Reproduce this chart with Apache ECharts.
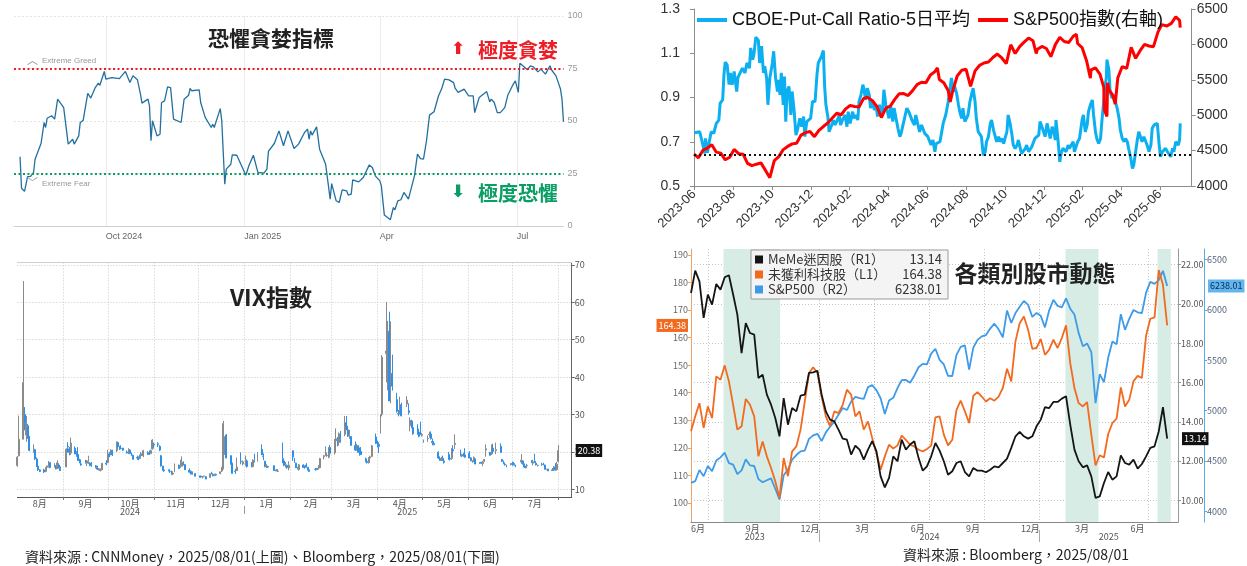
<!DOCTYPE html>
<html><head><meta charset="utf-8">
<script src="https://cdn.jsdelivr.net/npm/echarts@6/dist/echarts.min.js"></script>
<style>html,body{margin:0;padding:0;background:#fff}#c{width:1247px;height:566px}</style>
</head><body><div id="c"></div>
<script>
// ---------- Fear & Greed (days since 2024-08-01) ----------
const fgDay = [4,5,7,9,11,13,14,18,20,21, 22,25,27,29,33,34,36,39,40,43, 44,46,47,49,51,54,56,57,60,61,
 65,70,74,77,79,82,84,85,89,90, 91,92,95,97,98,100,102,104,106,111, 113,116,117,118,123,124,127,131,132,133,
 137,138,140,141,144,145,148,154,156,159, 162,166,168,169,173,176,179,182,186,189, 190,193,195,196,197,198,201,203,207,210,
 211,214,216,218,221,222,224,225,229,232, 236,238,240,243,244,246,250,252,253,255, 257,259,262,263,266,268,270,272,274,276,
 279,282,284,286,289,292,293,295,299,302, 305,306,309,314,316,317,319,321,323,326, 328,331,333,335,336,338,341,343,345,348,
 350,353,356,357,360,363,364,365];
const fgVal = [33,18,16.5,23.5,23.6,25.5,31.8,39.4,49.3,46.9, 51.3,52.5,50.9,60.4,56.4,55.9,39,41.3,39,42.9, 49.3,50.4,54.8,63.2,60.9,65.9,68,67,73.6,69.9,
 70.7,70.2,73.6,68.3,71.5,69.6,62.8,58.5,60.4,57.2, 40.6,50.1,42.9,43.7,58.8,59.6,66.3,65.9,50.9,49.3, 60.4,62.3,65.5,64.4,64.8,58.8,51.7,46.9,48.5,46.9,
 55.9,50.1,19.9,27.1,29.4,33.9,33.7,24.2,28.7,33.7, 25.5,25.2,27.1,35.5,39.4,45.3,38.2,45.3,36.9,39, 38.2,44.5,46.1,41.3,45.3,43.3,47.2,36.6,29.4,12.8,
 20.2,12,11.2,17.2,16.7,14.7,15.2,22,21,23.1, 29.1,27.9,23.9,21.5,19.1,5.2,3,8.8,7.7,12, 12.5,16,12.8,13.1,23.9,34.2,32.1,31.8,40.6,52.8,
 54.4,62,65.2,69.9,69.6,68.3,65.6,63.6,65.2,62, 62,54,61.2,64,59.1,60.4,58.8,54,54,56.4, 62.3,66.7,69.1,63.6,77.5,76.3,74.4,76.3,75.8,73.4,
 74.7,72.3,76.3,74.4,71.5,65.2,60.4,49.6];
const fgTicks = ['2024-10-01','2025-01-01','2025-04-01','2025-07-01'];
const fgTickText = ['Oct 2024','Jan 2025','Apr','Jul'];

// ---------- VIX daily OHLC ----------
const vixDates = [
 '2024-08-01','2024-08-02','2024-08-05','2024-08-06','2024-08-07','2024-08-08','2024-08-09','2024-08-12','2024-08-13','2024-08-14','2024-08-15','2024-08-16','2024-08-19','2024-08-20','2024-08-21','2024-08-22','2024-08-23','2024-08-26','2024-08-27','2024-08-28','2024-08-29','2024-08-30',
 '2024-09-03','2024-09-04','2024-09-05','2024-09-06','2024-09-09','2024-09-10','2024-09-11','2024-09-12','2024-09-13','2024-09-16','2024-09-17','2024-09-18','2024-09-19','2024-09-20','2024-09-23','2024-09-24','2024-09-25','2024-09-26','2024-09-27','2024-09-30',
 '2024-10-01','2024-10-02','2024-10-03','2024-10-04','2024-10-07','2024-10-08','2024-10-09','2024-10-10','2024-10-11','2024-10-14','2024-10-15','2024-10-16','2024-10-17','2024-10-18','2024-10-21','2024-10-22','2024-10-23','2024-10-24','2024-10-25','2024-10-28','2024-10-29','2024-10-30','2024-10-31',
 '2024-11-01','2024-11-04','2024-11-05','2024-11-06','2024-11-07','2024-11-08','2024-11-11','2024-11-12','2024-11-13','2024-11-14','2024-11-15','2024-11-18','2024-11-19','2024-11-20','2024-11-21','2024-11-22','2024-11-25','2024-11-26','2024-11-27','2024-11-29',
 '2024-12-02','2024-12-03','2024-12-04','2024-12-05','2024-12-06','2024-12-09','2024-12-10','2024-12-11','2024-12-12','2024-12-13','2024-12-16','2024-12-17','2024-12-18','2024-12-19','2024-12-20','2024-12-23','2024-12-24','2024-12-26','2024-12-27','2024-12-30','2024-12-31',
 '2025-01-02','2025-01-03','2025-01-06','2025-01-07','2025-01-08','2025-01-10','2025-01-13','2025-01-14','2025-01-15','2025-01-16','2025-01-17','2025-01-21','2025-01-22','2025-01-23','2025-01-24','2025-01-27','2025-01-28','2025-01-29','2025-01-30','2025-01-31',
 '2025-02-03','2025-02-04','2025-02-05','2025-02-06','2025-02-07','2025-02-10','2025-02-11','2025-02-12','2025-02-13','2025-02-14','2025-02-18','2025-02-19','2025-02-20','2025-02-21','2025-02-24','2025-02-25','2025-02-26','2025-02-27','2025-02-28',
 '2025-03-03','2025-03-04','2025-03-05','2025-03-06','2025-03-07','2025-03-10','2025-03-11','2025-03-12','2025-03-13','2025-03-14','2025-03-17','2025-03-18','2025-03-19','2025-03-20','2025-03-21','2025-03-24','2025-03-25','2025-03-26','2025-03-27','2025-03-28','2025-03-31',
 '2025-04-01','2025-04-02','2025-04-03','2025-04-04','2025-04-07','2025-04-08','2025-04-09','2025-04-10','2025-04-11','2025-04-14','2025-04-15','2025-04-16','2025-04-17','2025-04-21','2025-04-22','2025-04-23','2025-04-24','2025-04-25','2025-04-28','2025-04-29','2025-04-30',
 '2025-05-01','2025-05-02','2025-05-05','2025-05-06','2025-05-07','2025-05-08','2025-05-09','2025-05-12','2025-05-13','2025-05-14','2025-05-15','2025-05-16','2025-05-19','2025-05-20','2025-05-21','2025-05-22','2025-05-23','2025-05-27','2025-05-28','2025-05-29','2025-05-30',
 '2025-06-02','2025-06-03','2025-06-04','2025-06-05','2025-06-06','2025-06-09','2025-06-10','2025-06-11','2025-06-12','2025-06-13','2025-06-16','2025-06-17','2025-06-18','2025-06-20','2025-06-23','2025-06-24','2025-06-25','2025-06-26','2025-06-27','2025-06-30',
 '2025-07-01','2025-07-02','2025-07-03','2025-07-07','2025-07-08','2025-07-09','2025-07-10','2025-07-11','2025-07-14','2025-07-15','2025-07-16','2025-07-17','2025-07-18','2025-07-21','2025-07-22','2025-07-23','2025-07-24','2025-07-25','2025-07-28','2025-07-29','2025-07-30','2025-07-31',
 '2025-08-01'];
const vixOpen = [
 16.4,19.0,23.4,30.0,24.5,27.0,24.0,20.4,20.6,18.1,16.2,15.2,15.2,14.8,15.9,16.2,17.2,16.0,16.3,15.6,16.5,15.5,
 16.0,21.5,20.8,19.7,21.0,19.6,19.3,17.9,16.8,17.2,17.0,17.5,17.0,16.4,16.3,15.8,15.4,15.0,15.2,17.0,
 17.2,19.5,19.5,20.1,20.4,22.5,21.4,21.0,21.0,20.0,19.7,20.5,19.4,19.1,18.5,18.4,18.4,19.3,19.0,19.8,19.8,19.6,20.8,
 22.0,22.2,21.5,19.0,16.2,15.2,15.0,14.8,14.6,14.1,14.7,16.5,15.9,16.2,17.0,16.6,15.1,14.8,14.1,14.2,
 13.6,13.5,13.4,13.5,13.4,13.2,14.2,14.0,13.7,14.0,14.2,14.9,15.6,22.8,24.5,19.0,17.0,14.9,15.0,17.5,16.8,
 17.2,17.6,16.2,16.1,17.7,18.2,20.7,18.8,17.5,16.0,16.1,16.3,15.1,15.3,14.8,18.2,17.6,16.4,16.4,15.7,
 20.3,18.0,17.0,15.8,15.3,16.5,16.1,16.5,15.9,15.1,15.4,15.6,15.5,15.8,18.7,19.1,19.0,18.6,21.2,
 19.8,23.0,23.3,22.5,24.5,24.7,27.8,25.9,24.4,24.1,21.7,20.8,21.5,20.3,20.1,18.2,17.5,17.1,18.4,18.8,24.0,
 22.6,22.0,25.0,30.1,46.3,38.0,52.0,38.5,41.0,34.0,30.3,31.4,32.5,32.8,31.0,27.0,28.3,26.5,25.2,25.3,26.0,
 24.4,23.0,23.5,24.6,24.8,22.8,22.3,19.9,18.3,17.8,18.3,17.6,19.3,18.3,18.3,20.6,22.0,20.5,18.9,19.5,19.2,
 19.6,18.4,17.6,17.6,18.1,17.1,17.2,16.9,17.5,20.5,19.9,19.5,21.0,20.3,21.5,18.0,17.5,16.7,16.5,16.6,
 16.9,16.9,16.4,17.3,17.6,16.7,15.9,16.3,17.3,17.0,17.5,17.0,16.4,16.7,16.7,16.5,15.3,15.4,15.2,15.1,15.9,15.3,
 17.4];
const vixHigh = [
 18.9,29.7,65.7,32.0,29.6,27.5,24.3,22.0,20.8,18.5,16.5,15.4,15.5,15.9,16.3,17.6,17.2,17.0,16.5,17.8,17.0,16.1,
 21.0,22.6,21.3,23.8,21.5,20.2,21.3,18.2,17.1,17.9,17.8,19.0,17.2,17.3,16.5,16.3,15.7,15.6,17.0,17.8,
 20.6,20.0,20.7,20.6,22.8,22.7,21.6,21.8,21.1,20.4,21.0,20.6,19.8,19.3,19.0,18.8,20.0,19.6,20.6,20.2,20.4,20.6,23.4,
 22.5,22.6,21.8,19.2,16.3,15.4,15.3,15.4,15.0,14.8,16.9,16.6,17.9,18.8,17.5,16.8,15.6,15.1,14.8,14.3,
 13.6,13.6,13.5,13.6,13.4,14.2,14.7,14.2,14.2,14.2,14.7,16.0,28.3,24.1,24.8,19.1,17.1,15.5,18.5,19.9,17.7,
 19.0,17.8,17.3,18.0,19.5,20.0,22.0,19.6,17.6,16.7,16.3,16.4,15.2,15.4,15.3,22.5,18.2,17.3,16.5,17.5,
 20.4,18.4,17.1,16.0,16.8,16.7,16.4,17.0,16.0,15.3,15.7,15.7,16.5,18.4,19.2,21.5,19.8,21.3,21.9,
 23.5,26.3,24.0,25.2,25.6,29.6,29.6,27.0,25.9,24.2,22.8,22.2,21.8,21.2,21.3,18.5,17.6,18.6,19.0,21.9,24.9,
 23.0,22.6,30.0,45.9,60.1,55.0,57.5,54.9,46.0,35.8,31.2,34.8,33.2,34.9,33.0,29.2,28.6,27.2,27.4,26.2,28.1,
 25.1,23.3,24.4,25.4,25.5,23.6,22.9,20.2,18.8,18.7,19.0,17.9,20.0,18.5,21.0,21.8,24.7,20.6,19.5,19.8,21.0,
 20.2,18.6,17.8,18.8,18.2,17.3,17.4,17.6,18.1,22.0,20.0,22.0,22.2,22.5,22.3,18.1,17.7,17.2,16.6,17.0,
 17.4,17.3,16.6,19.4,17.8,16.9,16.3,16.8,17.8,17.9,19.5,17.2,16.6,17.1,17.1,16.6,15.5,15.5,15.7,16.2,17.0,17.3,
 21.9];
const vixLow = [
 16.0,18.8,23.4,25.8,22.7,23.5,20.2,19.8,17.9,16.0,14.9,14.6,14.4,14.6,15.5,15.8,15.6,15.8,15.4,15.4,15.6,15.0,
 15.9,19.8,19.1,19.2,19.4,18.7,17.6,17.0,16.3,16.9,16.2,16.8,16.2,16.0,15.6,15.2,15.0,14.8,15.1,16.4,
 17.0,18.6,19.1,18.9,20.0,21.0,20.5,20.7,20.3,19.6,19.4,19.5,18.9,18.0,17.9,17.8,18.2,18.9,18.6,19.2,19.2,19.4,20.6,
 20.9,21.3,20.2,16.1,15.0,14.7,14.8,14.4,13.9,13.8,14.6,15.4,15.7,16.1,16.4,15.2,14.4,14.0,13.9,13.5,
 13.1,13.1,12.9,13.2,12.7,13.1,14.0,13.5,13.5,13.6,14.0,14.6,15.3,19.2,18.3,16.6,14.2,14.1,14.9,16.7,16.4,
 16.2,15.8,15.9,15.9,17.2,17.4,19.2,17.8,15.9,15.7,15.7,14.9,14.8,14.8,14.6,17.0,16.2,15.8,15.5,15.1,
 17.6,17.1,15.7,15.3,15.0,15.8,15.5,15.9,15.1,14.7,15.0,15.1,15.3,15.6,18.0,18.9,18.7,18.3,19.6,
 19.3,22.0,21.5,21.7,22.5,24.2,25.8,24.0,23.5,21.6,20.3,20.3,19.8,19.0,19.2,17.2,16.9,16.9,18.0,18.6,22.1,
 21.2,19.7,24.9,29.5,38.6,36.5,33.6,33.0,36.4,30.5,29.5,30.0,29.5,32.0,30.0,25.5,26.3,24.6,24.6,23.9,24.5,
 24.1,22.5,22.7,23.8,23.3,21.8,21.8,18.1,17.7,17.6,17.6,16.9,17.9,17.7,17.9,19.8,20.8,18.8,18.6,18.7,18.5,
 18.3,17.5,17.1,17.3,16.7,16.8,16.8,16.2,17.3,18.7,19.0,19.2,19.6,19.4,19.8,17.3,16.7,16.3,15.9,16.4,
 16.3,16.4,15.9,16.8,16.6,15.7,15.6,15.9,17.0,16.4,17.1,16.4,16.1,16.3,16.4,15.3,15.1,14.9,14.9,14.9,15.0,15.0,
 17.2];
const vixClose = [
 18.59,23.39,38.57,27.71,27.85,23.79,20.37,20.71,18.12,16.19,15.23,14.80,14.65,15.88,16.27,17.55,15.86,16.15,15.43,17.11,15.65,15.00,
 20.72,21.32,19.90,22.38,19.45,19.08,17.69,17.07,16.56,17.14,17.61,18.23,16.33,16.15,15.89,15.39,15.41,15.37,16.96,16.73,
 19.26,18.90,20.49,19.21,22.64,21.42,20.86,20.93,20.46,19.70,20.64,19.58,19.11,18.03,18.37,18.20,19.24,19.08,20.33,19.80,19.34,20.35,23.16,
 21.88,21.98,20.49,16.27,15.20,14.94,14.97,14.71,14.02,14.31,16.14,15.58,16.35,17.16,16.87,15.24,14.60,14.10,14.10,13.51,
 13.34,13.30,13.45,13.54,12.77,14.19,14.18,13.58,13.92,13.81,14.69,15.87,27.62,24.09,18.36,16.78,14.27,14.73,15.95,17.40,17.35,
 17.93,16.13,16.04,17.82,17.70,19.54,19.19,18.71,16.12,16.60,15.97,15.06,15.10,15.02,14.85,17.90,16.41,16.56,15.84,16.43,
 18.62,17.21,15.77,15.50,16.54,15.81,16.02,15.89,15.10,14.77,15.35,15.27,15.66,18.21,18.98,19.43,19.10,21.13,19.63,
 22.78,23.51,21.93,24.87,23.37,27.86,26.92,24.23,24.66,21.77,20.51,21.70,19.90,19.80,19.28,17.48,17.15,18.33,18.69,21.65,22.28,
 21.77,21.51,30.02,45.31,46.98,52.33,33.62,40.72,37.56,30.89,30.12,32.64,29.65,33.82,30.57,28.45,26.47,24.84,25.15,24.17,24.70,
 24.60,22.68,23.64,24.76,23.55,22.48,21.90,18.39,17.72,18.22,17.83,17.24,18.14,18.09,20.87,20.28,22.29,18.96,19.31,19.18,18.57,
 18.36,17.69,17.61,18.48,16.77,17.16,16.95,17.26,18.02,20.82,19.11,21.60,20.14,20.62,19.83,17.48,16.76,16.59,16.32,16.73,
 16.83,16.64,16.38,17.79,16.81,15.94,15.78,16.40,17.20,17.38,17.16,16.52,16.41,16.65,16.50,15.37,15.39,14.93,15.03,15.98,15.48,16.72,
 20.38];
const vixMonthStarts = ['2024-09-01','2024-10-01','2024-11-01','2024-12-01','2025-01-01','2025-02-01','2025-03-01','2025-04-01','2025-05-01','2025-06-01','2025-07-01','2025-08-01'];
const vixMonthLabels = ['2024-08-16','2024-09-16','2024-10-16','2024-11-16','2024-12-16','2025-01-16','2025-02-15','2025-03-16','2025-04-16','2025-05-16','2025-06-16','2025-07-16'];

// ---------- Put/Call ratio (days since 2023-06-30) ----------
const pcDay = [1,9,12,14,17,18,21,24,27,31, 35,39,41,45,47,49,52,55,57,60, 63,67,69,72,76,79,80,83,87,89, 92,94,97,101,103,106,109,111,114,116,
 119,123,125,128,131,132,135,137,140,142, 144,146,149,152,154,157,160,163,166,169, 172,174,177,179,183,186,190,193,195,198, 200,203,205,207,210,212,216,219,221,224,
 228,230,233,237,240,242,245,249,251,254, 257,259,262,265,267,269,272,275,277,280, 283,286,288,291,294,296,298,301,304,306, 309,312,314,317,320,323,325,328,331,334,
 337,339,343,346,348,351,354,357,359,362, 365,367,370,372,375,378,380,383,386,391, 395,399,404,407,409,412,415,417,420,422, 425,428,430,433,436,438,441,443,446,449,
 451,454,457,459,462,465,467,470,472,475, 478,480,483,486,488,491,493,496,499,501, 504,507,509,512,514,517,520,522,525,528, 530,533,535,538,541,543,546,549,551,554,
 556,559,562,564,567,568,571,574,576,579, 581,584,587,589,592,595,597,599,602,605, 609,611,614,617,619,622,625,627,630,632, 635,638,640,643,645,647,648,651,653,656,
 659,661,664,667,669,672,675,677,680,682, 685,688,690,693,696,698,701,703,706,709, 711,714,717,719,722,724,727,730,732,735, 738,740,743,745,748,751,753,756,759,760,
 762,763];
const pcVal = [.741,.745,.738,.685,.647,.715,.65,.70,.745,.738, .783,.798,.874,.889,1.003,1.06,1.048,.958,1.011,.958, 1.018,.927,.991,.995,1.033,1.041,1.011,1.056,1.033,1.124, 1.071,1.094,1.173,1.158,1.056,1.132,1.011,1.041,.988,.867,
 .988,1.056,1.109,.988,.927,.98,.912,1.011,.867,.995, .791,.927,.95,.821,.927,.844,.73,.761,.806,.768, .814,.723,.791,.783,.806,.882,.882,1.003,1.056,1.048, 1.086,1.112,.95,.867,.814,.745,.776,.798,.776,.791,
 .821,.776,.798,.821,.768,.836,.783,.836,.806,.821, .798,.882,.912,.958,.935,.889,.942,.912,.852,.882, .844,.859,.814,.867,.821,.844,.935,.867,.867,.806, .859,.791,.852,.806,.761,.723,.738,.776,.814,.852,
 .836,.844,.791,.776,.821,.821,.745,.776,.783,.738, .73,.723,.723,.685,.708,.655,.692,.685,.70,.783, .821,.882,.988,.927,.95,.92,.867,.836,.806,.852, .791,.783,.821,.882,.92,.942,.882,.806,.745,.738,
 .723,.639,.655,.70,.723,.783,.798,.753,.745,.70, .723,.70,.715,.692,.715,.745,.821,.783,.73,.685, .67,.685,.708,.67,.647,.655,.67,.685,.655,.647, .677,.70,.715,.708,.73,.791,.768,.761,.723,.783,
 .776,.715,.768,.753,.708,.798,.715,.609,.647,.67, .662,.655,.685,.67,.662,.70,.655,.655,.70,.715, .798,.821,.745,.776,.836,.867,.889,.821,.745,.715, .692,.715,.791,.882,.95,.988,1.071,1.026,.927,.897,
 .912,.882,.852,.806,.753,.715,.70,.715,.70,.67, .632,.579,.594,.655,.715,.745,.753,.70,.723,.70, .685,.655,.685,.761,.776,.783,.783,.685,.632,.655, .662,.67,.655,.647,.632,.67,.655,.70,.708,.685,
 .708,.783];
// ---------- S&P 500 (days since 2023-06-30) ----------
const spDay = [0,3,7,14,21,28,31,35,42,49, 56,63,70,77,84,91,98,105,112,119, 126,133,140,147,154,161,168,175,182,189, 196,203,210,217,224,231,238,245,252,259,
 266,272,280,287,294,301,308,315,322,329, 336,343,350,357,364,371,378,382,385,392, 399,402,406,413,420,427,434,441,448,455, 462,469,476,483,490,497,504,511,518,525,
 532,537,539,546,553,560,567,574,581,588, 595,600,602,609,616,622,623,630,637,643, 644,648,649,651,657,661,665,672,679,686, 693,700,707,714,721,728,734,742,749,756, 759,762,763];
const spVal = [4450,4455,4399,4505,4536,4582,4589,4478,4464,4370, 4406,4516,4457,4450,4320,4288,4308,4327,4224,4117, 4358,4415,4514,4559,4595,4604,4719,4754,4770,4697, 4784,4840,4891,4959,5027,5006,5089,5137,5124,5117,
 5234,5254,5204,5123,4967,5100,5128,5223,5303,5305, 5278,5347,5431,5465,5460,5567,5615,5667,5505,5459, 5346,5186,5344,5554,5634,5648,5408,5626,5703,5738, 5751,5815,5864,5808,5729,5995,5871,5969,6032,6090,
 6051,5872,5931,5971,5942,5827,5997,6101,6041,6026, 6115,6144,6013,5955,5770,5522,5639,5668,5581,5397, 5074,4983,5457,5363,5283,5158,5525,5687,5660,5958, 5803,5912,6000,5977,5968,6173,6279,6260,6297,6389, 6389,6339,6238];
const pcTicks = ['2023-06-30','2023-08-31','2023-10-31','2023-12-31','2024-02-29','2024-04-30','2024-06-30','2024-08-31','2024-10-31','2024-12-31','2025-02-28','2025-04-30','2025-06-30'];

// ---------- Weekly sector chart (weeks from 2023-06-02) ----------
const memeVal = [20.56,21.70,21.15,19.29,20.48,19.97,21.02,20.73,21.36,21.46, 20.48,19.46,17.50,19.03,18.52,18.44,16.23,16.40,15.38,14.87,
 14.19,13.26,15.21,13.85,14.70,14.53,15.33,15.38,16.49,16.52, 16.60,15.38,14.53,14.11,14.02,13.60,13.14,13.09,12.33,12.78,
 12.58,12.07,12.58,13.01,12.50,11.22,10.66,11.14,12.24,11.99, 13.09,12.58,12.84,13.01,12.16,11.51,11.73,12.24,12.92,12.53,
 11.99,11.30,11.48,11.90,11.99,11.44,11.22,11.65,11.51,11.51, 11.43,11.56,11.73,11.68,11.90,12.12,12.67,13.26,13.48,13.26,
 13.14,13.26,13.77,14.11,14.74,14.70,15.01,15.01,15.18,15.30, 13.85,12.58,11.99,11.68,11.78,11.22,10.12,10.20,10.88,11.44,
 11.05,11.22,12.29,11.90,11.82,12.07,11.61,11.85,12.24,12.67, 12.75,13.51,14.74,13.14];
const techVal = [126.0,131.4,136.2,127.2,135.0,130.8,145.9,144.7,149.9,144.1, 135.6,126.6,127.8,137.7,135.6,131.4,116.9,122.3,116.9,112.7,
 107.9,101.8,116.3,109.7,118.7,120.5,126.6,136.8,147.1,149.2, 147.1,138.6,131.4,127.8,133.2,132.6,135.6,141.1,139.3,131.4,
 133.2,126.6,129.6,123.6,118.1,112.1,116.9,121.1,119.7,120.9, 124.4,122.9,121.1,120.5,119.3,118.7,119.6,120.8,131.0,131.4,
 124.8,120.9,122.9,133.8,137.1,133.2,129.0,138.9,140.2,138.6, 136.8,138.0,137.1,138.6,141.7,148.7,144.1,158.6,165.2,167.6,
 162.8,155.9,156.2,159.5,153.7,155.6,159.2,156.2,159.8,164.4, 150.7,141.7,136.2,135.0,136.6,124.8,113.6,117.3,116.5,125.0,
 129.0,130.6,141.9,135.0,137.4,144.1,146.1,145.3,160.7,166.8, 167.3,184.5,179.1,164.38];
const spxWeekly = [4282,4299,4410,4348,4450,4399,4505,4536,4582,4478, 4464,4370,4406,4516,4457,4450,4320,4288,4308,4327,
 4224,4117,4358,4415,4514,4559,4595,4604,4719,4754, 4770,4697,4784,4840,4891,4959,5027,5006,5089,5137,
 5124,5117,5234,5254,5204,5123,4967,5100,5128,5223, 5303,5305,5278,5347,5431,5465,5460,5567,5615,5505,
 5459,5346,5344,5554,5634,5648,5408,5626,5703,5738, 5751,5815,5864,5808,5729,5995,5871,5969,6032,6090,
 6051,5931,5971,5942,5827,5997,6101,6041,6026,6115, 6013,5955,5770,5639,5668,5581,5074,5363,5283,5525,
 5687,5660,5958,5803,5912,6000,5977,5968,6173,6279, 6260,6297,6389,6238.01];
const secGridDates = ['2023-07-01','2023-10-01','2024-01-01','2024-04-01','2024-07-01','2024-10-01','2025-01-01','2025-04-01','2025-07-01'];
const secMonthLabels = ['2023-06-02','2023-09-01','2023-12-01','2024-03-01','2024-06-01','2024-09-01','2024-12-01','2025-03-01','2025-06-01'];
const secYearLabels = ['2023-09-16','2024-07-02','2025-04-26'];
const secShade = [['2023-07-26','2023-10-28'],['2025-02-13','2025-04-09'],['2025-07-16','2025-08-07']];
const secNames = ['MeMe迷因股（R1）','未獲利科技股（L1）','S&P500（R2）'];
const secLast = ['13.14','164.38','6238.01'];

// ---------- helpers ----------
const DAY = 864e5;
const T = s => { const p = s.split('-').map(Number); return Date.UTC(p[0], p[1]-1, p[2]); };
const fgBase = '2024-08-01', vixBase = '2024-08-01', pcBase = '2023-06-30', wkBase = '2023-06-02';
const dd = (s, base) => Math.round((T(s) - T(base)) / DAY);          // date -> day number
const back = (v, base) => new Date(T(base) + Math.round(v) * DAY);     // day number -> Date
const CJK = "'Noto Sans CJK TC','Noto Sans',sans-serif";
const LAT = "'Liberation Sans','Noto Sans CJK TC',sans-serif";
const NOLINE = { color: 'rgba(0,0,0,0)', width: 1 };

const txt = (x, y, text, font, fill, align) => ({
  type: 'text', x, y, z: 100, silent: true,
  style: { text, font, fill, align: align || 'left', verticalAlign: 'middle' }
});
const lastLabel = (value, text, pos, dist, bg, fg) => ({
  silent: true, symbol: ['none', 'none'], lineStyle: NOLINE,
  label: { show: true, position: pos, distance: dist, formatter: () => text, backgroundColor: bg, color: fg, fontSize: 9, padding: [2, 2], opacity: 1 },
  data: [{ yAxis: value }]
});

const option = {
  animation: false,
  textStyle: { fontFamily: CJK },
  grid: [
    { left: 14, top: 16, width: 549.5, height: 210 },
    { left: 17.4, top: 262.5, width: 554.3, height: 234.5 },
    { left: 694, top: 9, width: 497.7, height: 177 },
    { left: 691, top: 249, width: 487, height: 273 }
  ],
  legend: [
    { data: ['CBOE-Put-Call Ratio-5日平均', 'S&P500指數(右軸)'], left: 692, top: 6, icon: 'rect', itemWidth: 30, itemHeight: 4, itemGap: 8,
      textStyle: { fontSize: 18, color: '#111', fontFamily: LAT } },
    { data: secNames, orient: 'vertical', left: 751, top: 250, icon: 'rect', itemWidth: 8, itemHeight: 8, itemGap: 2,
      backgroundColor: '#f4f4f4', borderColor: '#9a9a9a', borderWidth: 1, padding: [3, 6, 3, 4],
      formatter: n => '{n|' + n + '}{v|' + secLast[secNames.indexOf(n)] + '}',
      textStyle: { rich: { n: { width: 118, fontSize: 13, color: '#333', fontFamily: CJK }, v: { width: 56, align: 'right', fontSize: 13, color: '#333', fontFamily: CJK } } } }
  ],
  xAxis: [
    { type: 'value', gridIndex: 0, position: 'bottom', min: 0, max: 365,
      axisLine: { show: true, onZero: false, lineStyle: { color: '#d0d0d0' } },
      axisTick: { show: false, customValues: fgTicks.map(s => dd(s, fgBase)) },
      axisLabel: { customValues: fgTicks.map(s => dd(s, fgBase)), align: 'left', margin: 6, fontSize: 9, color: '#666', fontFamily: LAT,
        formatter: v => { const i = fgTicks.findIndex(s => dd(s, fgBase) === Math.round(v)); return i < 0 ? '' : fgTickText[i]; } },
      splitLine: { show: true, lineStyle: { color: '#ececec' } } },
    { type: 'value', gridIndex: 1, position: 'bottom', min: 0, max: 374,
      axisLine: { show: true, onZero: false, lineStyle: { color: '#555' } },
      axisTick: { show: true, length: 3, customValues: vixMonthStarts.map(s => dd(s, vixBase)), lineStyle: { color: '#777' } },
      axisLabel: { customValues: vixMonthLabels.map(s => dd(s, vixBase)), margin: 2, fontSize: 9, color: '#555',
        formatter: v => (back(v, vixBase).getUTCMonth() + 1) + '月' },
      splitLine: { show: true, lineStyle: { color: '#c8c8c8', type: [1, 2] } } },
    { type: 'value', gridIndex: 1, position: 'bottom', min: 0, max: 374, offset: 9,
      axisLine: { show: false, onZero: false },
      axisTick: { show: true, length: 8, customValues: [dd('2025-01-01', vixBase)], lineStyle: { color: '#999' } },
      axisLabel: { customValues: [dd('2024-10-16', vixBase), dd('2025-04-21', vixBase)], margin: 1, fontSize: 9, color: '#555',
        formatter: v => String(back(v, vixBase).getUTCFullYear()) },
      splitLine: { show: false } },
    { type: 'value', gridIndex: 1, position: 'top', min: 0, max: 374,
      axisLine: { show: true, onZero: false, lineStyle: { color: '#cfcfcf' } }, axisTick: { show: false }, axisLabel: { show: false }, splitLine: { show: false } },
    { type: 'value', gridIndex: 2, position: 'bottom', min: 0, max: 781,
      axisLine: { show: true, onZero: false, lineStyle: { color: '#8c8c8c' } },
      axisTick: { show: true, length: 4, customValues: pcTicks.map(s => dd(s, pcBase)), lineStyle: { color: '#8c8c8c' } },
      axisLabel: { customValues: pcTicks.map(s => dd(s, pcBase)), rotate: 45, margin: 6, fontSize: 13, color: '#333', fontFamily: LAT,
        formatter: v => { const d = back(v, pcBase); return d.getUTCFullYear() + '-' + String(d.getUTCMonth() + 1).padStart(2, '0'); } },
      splitLine: { show: false } },
    { type: 'value', gridIndex: 3, position: 'bottom', min: 0, max: 809,
      axisLine: { show: true, onZero: false, lineStyle: { color: '#888' } },
      axisTick: { show: false, customValues: secGridDates.map(s => dd(s, wkBase)) },
      axisLabel: { customValues: secMonthLabels.map(s => dd(s, wkBase)), align: 'left', margin: 2, fontSize: 9, color: '#555',
        formatter: v => (back(v, wkBase).getUTCMonth() + 1) + '月' },
      splitLine: { show: true, lineStyle: { color: '#c4c4c4', type: [1, 2] } } },
    { type: 'value', gridIndex: 3, position: 'bottom', min: 0, max: 809, offset: 8,
      axisLine: { show: false, onZero: false },
      axisTick: { show: true, length: 12, customValues: [dd('2024-01-01', wkBase), dd('2025-01-01', wkBase)], lineStyle: { color: '#aaa' } },
      axisLabel: { customValues: secYearLabels.map(s => dd(s, wkBase)), margin: 2, fontSize: 9, color: '#555',
        formatter: v => String(back(v, wkBase).getUTCFullYear()) },
      splitLine: { show: false } }
  ],
  yAxis: [
    { type: 'value', gridIndex: 0, position: 'right', min: 0, max: 100, interval: 25,
      axisLine: { show: false }, axisTick: { show: false },
      axisLabel: { fontSize: 9, color: '#999', margin: 4, fontFamily: LAT },
      splitLine: { lineStyle: { color: '#e4e4e4', type: [2, 2] } } },
    { type: 'value', gridIndex: 1, position: 'right', min: 7.95, max: 70.65,
      axisLine: { show: true, onZero: false, lineStyle: { color: '#666' } },
      axisTick: { show: true, length: 3, customValues: [10, 20, 30, 40, 50, 60, 70], lineStyle: { color: '#666' } },
      axisLabel: { customValues: [10, 20, 30, 40, 50, 60, 70], fontSize: 9, color: '#555', margin: 3 },
      splitLine: { show: true, lineStyle: { color: '#c8c8c8', type: [1, 2] } } },
    { type: 'value', gridIndex: 2, position: 'left', min: 0.5, max: 1.3,
      axisLine: { show: true, onZero: false, lineStyle: { color: '#8c8c8c' } },
      axisTick: { show: true, length: 4, customValues: [0.5, 0.7, 0.9, 1.1, 1.3] },
      axisLabel: { customValues: [0.5, 0.7, 0.9, 1.1, 1.3], formatter: v => v.toFixed(1), fontSize: 14, color: '#333', margin: 14, fontFamily: LAT },
      splitLine: { show: false } },
    { type: 'value', gridIndex: 2, position: 'right', min: 4000, max: 6500, interval: 500,
      axisLine: { show: true, onZero: false, lineStyle: { color: '#8c8c8c' } },
      axisTick: { show: true, length: 4 },
      axisLabel: { fontSize: 14, color: '#333', margin: 5, fontFamily: LAT, formatter: v => String(v) },
      splitLine: { show: false } },
    { type: 'value', gridIndex: 3, position: 'left', min: 93.1, max: 192.1,
      axisLine: { show: true, onZero: false, lineStyle: { color: '#f4a260' } },
      axisTick: { show: true, length: 3, customValues: [100, 110, 120, 130, 140, 150, 160, 170, 180, 190], lineStyle: { color: '#f4a260' } },
      axisLabel: { customValues: [100, 110, 120, 130, 140, 150, 160, 170, 180, 190], fontSize: 9, color: '#666', margin: 3 },
      splitLine: { show: false } },
    { type: 'value', gridIndex: 3, position: 'right', min: 8.895, max: 22.8,
      axisLine: { show: true, onZero: false, lineStyle: { color: '#999' } },
      axisTick: { show: true, length: 3, customValues: [10, 12, 14, 16, 18, 20, 22], lineStyle: { color: '#999' } },
      axisLabel: { customValues: [10, 12, 14, 16, 18, 20, 22], formatter: v => v.toFixed(2), fontSize: 9, color: '#555', margin: 3 },
      splitLine: { show: true, lineStyle: { color: '#c4c4c4', type: [1, 2] } } },
    { type: 'value', gridIndex: 3, position: 'right', offset: 26, min: 3893.7, max: 6606,
      axisLine: { show: true, onZero: false, lineStyle: { color: '#5aaae8' } },
      axisTick: { show: true, length: 3, customValues: [4000, 4500, 5000, 5500, 6000, 6500], lineStyle: { color: '#5aaae8' } },
      axisLabel: { customValues: [4000, 4500, 5000, 5500, 6000, 6500], fontSize: 9, color: '#55657a', margin: 3, formatter: v => String(v) },
      splitLine: { show: false } }
  ],
  series: [
    { name: 'fg', type: 'line', xAxisIndex: 0, yAxisIndex: 0, showSymbol: false,
      lineStyle: { color: '#236f9f', width: 1.3 }, itemStyle: { color: '#236f9f' },
      data: fgDay.map((d, i) => [d, fgVal[i]]),
      markLine: { silent: true, symbol: ['none', 'none'], label: { show: false },
        data: [ { yAxis: 75, lineStyle: { color: '#ee1c24', width: 2, type: [2, 2.5] } },
                { yAxis: 25, lineStyle: { color: '#0a9e64', width: 2, type: [2, 2.5] } } ] } },
    { name: 'VIX', type: 'candlestick', xAxisIndex: 1, yAxisIndex: 1, barWidth: 1.4,
      encode: { x: 0, y: [1, 2, 3, 4] },
      itemStyle: { color: '#8a8a8a', color0: '#2f8fe6', borderColor: '#8a8a8a', borderColor0: '#2f8fe6', borderWidth: 1 },
      data: vixDates.map((d, i) => [dd(d, vixBase), vixOpen[i], vixClose[i], vixLow[i], vixHigh[i]]) },
    { name: 'VIXlast', type: 'line', xAxisIndex: 1, yAxisIndex: 1, showSymbol: false, silent: true,
      lineStyle: NOLINE,
      data: [[dd(vixDates[vixDates.length - 1], vixBase), vixClose[vixClose.length - 1]]],
      markLine: lastLabel(vixClose[vixClose.length - 1], vixClose[vixClose.length - 1].toFixed(2), 'end', 4, '#111', '#fff') },
    { name: 'CBOE-Put-Call Ratio-5日平均', type: 'line', xAxisIndex: 4, yAxisIndex: 2, showSymbol: false,
      lineStyle: { color: '#0cb0f0', width: 3 }, itemStyle: { color: '#0cb0f0' },
      data: pcDay.map((d, i) => [d, pcVal[i]]),
      markLine: { silent: true, symbol: ['none', 'none'], label: { show: false },
        lineStyle: { color: '#111', width: 2, type: [2, 3] }, data: [{ yAxis: 0.64 }] } },
    { name: 'S&P500指數(右軸)', type: 'line', xAxisIndex: 4, yAxisIndex: 3, showSymbol: false,
      lineStyle: { color: '#ff0000', width: 3 }, itemStyle: { color: '#ff0000' },
      data: spDay.map((d, i) => [d, spVal[i]]) },
    { name: secNames[2], type: 'line', xAxisIndex: 5, yAxisIndex: 6, showSymbol: false,
      lineStyle: { color: '#3d9be9', width: 1.8 }, itemStyle: { color: '#3d9be9' },
      data: spxWeekly.map((v, i) => [i * 7, v]),
      markArea: { silent: true, itemStyle: { color: '#d6ece4' },
        data: secShade.map(p => [{ xAxis: dd(p[0], wkBase) }, { xAxis: dd(p[1], wkBase) }]) },
      markLine: lastLabel(6238.01, secLast[2], 'end', 30, '#63b5ee', '#0b2a50') },
    { name: secNames[1], type: 'line', xAxisIndex: 5, yAxisIndex: 4, showSymbol: false,
      lineStyle: { color: '#f26a1f', width: 1.8 }, itemStyle: { color: '#f26a1f' },
      data: techVal.map((v, i) => [i * 7, v]),
      markLine: lastLabel(164.38, secLast[1], 'start', 3, '#f26a1f', '#fff') },
    { name: secNames[0], type: 'line', xAxisIndex: 5, yAxisIndex: 5, showSymbol: false,
      lineStyle: { color: '#151515', width: 1.8 }, itemStyle: { color: '#151515' },
      data: memeVal.map((v, i) => [i * 7, v]),
      markLine: lastLabel(13.14, secLast[0], 'end', 4, '#111', '#fff') }
  ],
  graphic: [
    txt(271, 38, '恐懼貪婪指標', 'bold 21px ' + CJK, '#222', 'center'),
    txt(451, 50, '⬆', 'bold 17px "DejaVu Sans"', '#ee1c24'),
    txt(478, 50, '極度貪婪', 'bold 20px ' + CJK, '#ee1c24'),
    txt(451, 193, '⬇', 'bold 17px "DejaVu Sans"', '#0a9e64'),
    txt(478, 193, '極度恐懼', 'bold 20px ' + CJK, '#0a9e64'),
    txt(27, 60, '︿', '11px ' + CJK, '#999'),
    txt(42, 61, 'Extreme Greed', '8px ' + LAT, '#999'),
    txt(27, 183, '﹀', '11px ' + CJK, '#999'),
    txt(42, 184, 'Extreme Fear', '8px ' + LAT, '#999'),
    txt(271, 297, 'VIX指數', 'bold 23px ' + CJK, '#222', 'center'),
    txt(1035, 273, '各類別股市動態', 'bold 23px ' + CJK, '#222', 'center'),
    txt(25, 557, '資料來源 : CNNMoney，2025/08/01(上圖)、Bloomberg，2025/08/01(下圖)', '14px ' + CJK, '#222'),
    txt(903, 555, '資料來源 : Bloomberg，2025/08/01', '14px ' + CJK, '#222')
  ]
};
const chart = echarts.init(document.getElementById('c'));
chart.setOption(option);
</script></body></html>
